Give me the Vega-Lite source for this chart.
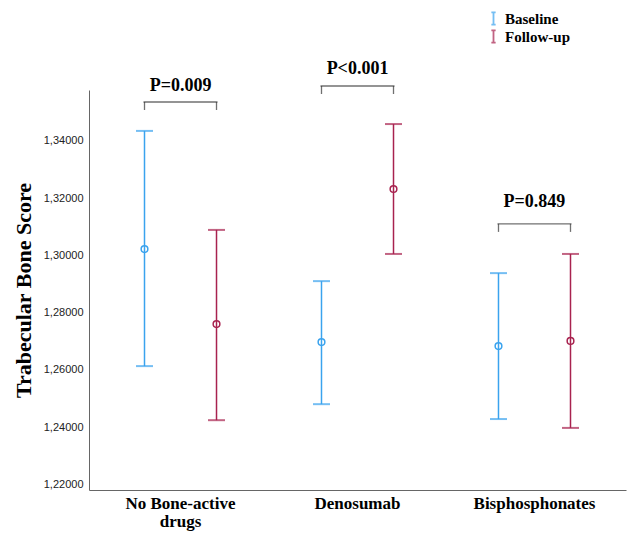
{
  "$schema": "https://vega.github.io/schema/vega-lite/v6.json",
  "width": 537,
  "height": 400,
  "autosize": {"type": "none"},
  "padding": {"left": 89, "top": 90, "right": 5, "bottom": 44},
  "background": "white",
  "config": {
    "view": {"stroke": null},
    "font": "Liberation Serif"
  },
  "datasets": {
    "bars": [
      {"group": "No Bone-active drugs", "time": "Baseline", "mean": 1.3022, "lo": 1.2613, "hi": 1.3435},
      {"group": "No Bone-active drugs", "time": "Follow-up", "mean": 1.2760, "lo": 1.2424, "hi": 1.3089},
      {"group": "Denosumab", "time": "Baseline", "mean": 1.2697, "lo": 1.2480, "hi": 1.2910},
      {"group": "Denosumab", "time": "Follow-up", "mean": 1.3232, "lo": 1.3005, "hi": 1.3459},
      {"group": "Bisphosphonates", "time": "Baseline", "mean": 1.2683, "lo": 1.2428, "hi": 1.2938},
      {"group": "Bisphosphonates", "time": "Follow-up", "mean": 1.2701, "lo": 1.2397, "hi": 1.3005}
    ],
    "brackets": [
      {"group": "No Bone-active drugs", "level": 1.3536, "labelLevel": 1.3591, "label": "P=0.009"},
      {"group": "Denosumab", "level": 1.3592, "labelLevel": 1.3652, "label": "P<0.001"},
      {"group": "Bisphosphonates", "level": 1.3110, "labelLevel": 1.3187, "label": "P=0.849"}
    ]
  },
  "encoding": {
    "x": {
      "field": "group",
      "type": "nominal",
      "sort": ["No Bone-active drugs", "Denosumab", "Bisphosphonates"],
      "scale": {"paddingInner": 0, "paddingOuter": 0.017},
      "axis": {
        "title": null,
        "labelAngle": 0,
        "labelFont": "Liberation Serif",
        "labelFontSize": 17,
        "labelFontWeight": "bold",
        "labelColor": "#000",
        "labelPadding": 5,
        "labelLineHeight": 18,
        "ticks": false,
        "domainColor": "#666",
        "domainWidth": 1,
        "grid": false,
        "labelExpr": "datum.value == 'No Bone-active drugs' ? ['No Bone-active', 'drugs'] : datum.value"
      }
    }
  },
  "layer": [
    {
      "data": {"name": "bars"},
      "mark": {"type": "rule", "strokeWidth": 1.5},
      "encoding": {
        "xOffset": {"field": "time", "type": "nominal", "scale": {"domain": ["Baseline", "Follow-up"], "paddingInner": 0, "paddingOuter": 0.229}},
        "y": {
          "field": "lo",
          "type": "quantitative",
          "scale": {"domain": [1.218, 1.3578], "nice": false, "zero": false},
          "axis": {
            "title": "Trabecular Bone Score",
            "titleFont": "Liberation Serif",
            "titleFontSize": 22,
            "titleFontWeight": "bold",
            "titleColor": "#000",
            "titlePadding": 8,
            "values": [1.22, 1.24, 1.26, 1.28, 1.3, 1.32, 1.34],
            "labelExpr": "replace(format(datum.value, '.5f'), '.', ',')",
            "labelFont": "Liberation Sans",
            "labelFontSize": 11,
            "labelColor": "#222",
            "labelPadding": 6,
            "ticks": false,
            "grid": false,
            "domainColor": "#666",
            "domainWidth": 1
          }
        },
        "y2": {"field": "hi"},
        "color": {
          "field": "time",
          "type": "nominal",
          "scale": {"domain": ["Baseline", "Follow-up"], "range": ["#3AA3EE", "#A8224F"]},
          "legend": {
            "title": null,
            "orient": "none",
            "legendX": 397,
            "legendY": -79,
            "symbolType": "M-0.35,-1H0.35M0,-1V1M-0.35,1H0.35",
            "symbolSize": 150,
            "symbolStrokeWidth": 1.8,
            "symbolFillColor": "transparent",
            "labelFont": "Liberation Serif",
            "labelFontSize": 15,
            "labelFontWeight": "bold",
            "labelColor": "#000",
            "labelOffset": 4,
            "rowPadding": -3
          }
        }
      }
    },
    {
      "data": {"name": "bars"},
      "mark": {"type": "tick", "thickness": 2, "size": 17},
      "encoding": {
        "xOffset": {"field": "time", "type": "nominal"},
        "y": {"field": "lo", "type": "quantitative"},
        "color": {"field": "time", "type": "nominal"}
      }
    },
    {
      "data": {"name": "bars"},
      "mark": {"type": "tick", "thickness": 2, "size": 17},
      "encoding": {
        "xOffset": {"field": "time", "type": "nominal"},
        "y": {"field": "hi", "type": "quantitative"},
        "color": {"field": "time", "type": "nominal"}
      }
    },
    {
      "data": {"name": "bars"},
      "mark": {"type": "point", "shape": "circle", "filled": false, "size": 45, "strokeWidth": 1.5, "opacity": 1},
      "encoding": {
        "xOffset": {"field": "time", "type": "nominal"},
        "y": {"field": "mean", "type": "quantitative"},
        "color": {"field": "time", "type": "nominal"}
      }
    },
    {
      "data": {"name": "brackets"},
      "mark": {"type": "tick", "thickness": 1.3, "size": 74, "color": "#333", "clip": false},
      "encoding": {
        "y": {"field": "level", "type": "quantitative"}
      }
    },
    {
      "data": {"name": "brackets"},
      "mark": {"type": "tick", "orient": "vertical", "thickness": 1.3, "size": 8, "yOffset": 4, "color": "#333", "clip": false},
      "encoding": {
        "xOffset": {"datum": "Baseline"},
        "y": {"field": "level", "type": "quantitative"}
      }
    },
    {
      "data": {"name": "brackets"},
      "mark": {"type": "tick", "orient": "vertical", "thickness": 1.3, "size": 8, "yOffset": 4, "color": "#333", "clip": false},
      "encoding": {
        "xOffset": {"datum": "Follow-up"},
        "y": {"field": "level", "type": "quantitative"}
      }
    },
    {
      "data": {"name": "brackets"},
      "mark": {"type": "text", "font": "Liberation Serif", "fontSize": 18, "fontWeight": "bold", "color": "#000", "baseline": "middle", "align": "center", "clip": false},
      "encoding": {
        "y": {"field": "labelLevel", "type": "quantitative"},
        "text": {"field": "label"}
      }
    }
  ]
}
